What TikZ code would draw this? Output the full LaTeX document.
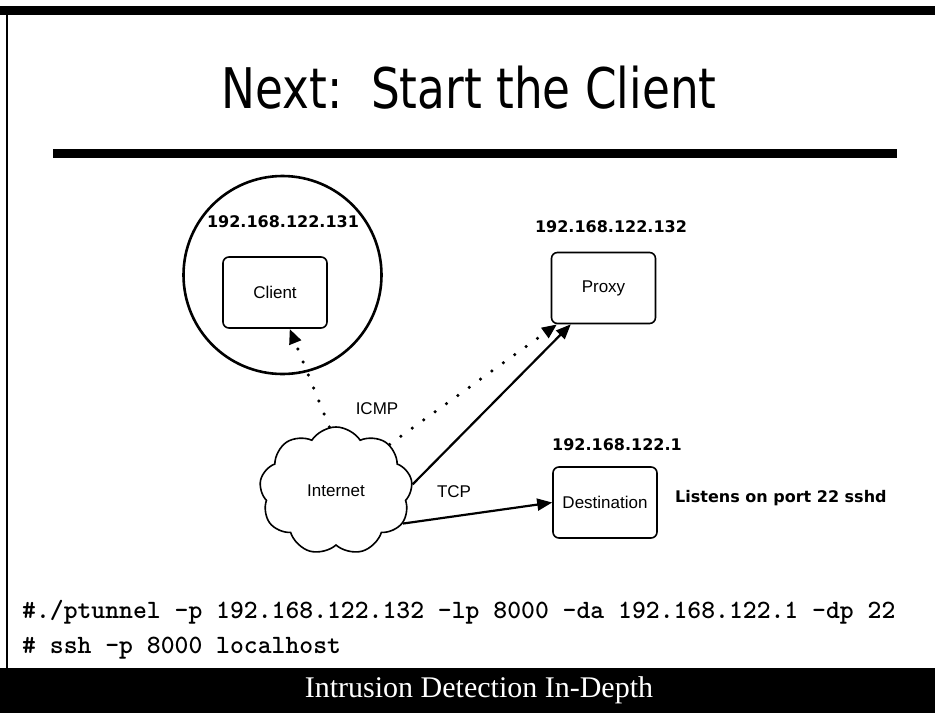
\documentclass[tikz,border=0pt]{standalone}
\usepackage{fontspec}
\usepackage{tikz}
\usetikzlibrary{arrows.meta,shapes.symbols}
\newfontfamily\headfont[FakeStretch=0.81]{DejaVu Sans}
\newfontfamily\ipfont{DejaVu Sans}
\newfontfamily\lblfont{Liberation Sans}
\newfontfamily\footfont{Liberation Serif}

\begin{document}
\begin{tikzpicture}[x=1pt,y=-1pt,
  hostbox/.style={draw,line width=1.6pt,rounded corners=6pt,minimum width=104pt,minimum height=71pt,font=\lblfont\fontsize{17}{20}\selectfont},
  ipaddr/.style={inner sep=0pt,font=\ipfont\bfseries\fontsize{16}{19}\selectfont},
  tag/.style={inner sep=0pt,font=\lblfont\fontsize{17}{20}\selectfont},
  solidlink/.style={line width=2.2pt,-{Triangle[length=15pt,width=12pt]}},
  dotlink/.style={line width=3.5pt,line cap=round,dash pattern=on 0pt off 14pt,-{Triangle[length=15pt,width=12pt]}},
  codeline/.style={anchor=base west,inner sep=0pt,font=\ttfamily\bfseries\fontsize{26.4}{30}\selectfont}]
  \useasboundingbox (0,0) rectangle (935,713);
  \fill[white] (0,0) rectangle (935,713);
  \fill (0,6) rectangle (935,15);
  \draw[line width=1.2pt] (7,10) -- (7,668);
  \fill (53,149) rectangle (897,158);
  \fill (0,668) rectangle (935,713);
  \node[anchor=base,inner sep=0pt,font=\headfont\fontsize{56}{60}\selectfont] (title) at (469,108) {Next:\ \ Start the Client};

  \node[draw,circle,line width=2.6pt,minimum size=198pt,inner sep=0pt] (lan) at (282.5,275) {};
  \node[ipaddr] (clientip) at (283,222) {192.168.122.131};
  \node[hostbox] (client) at (275,292.5) {Client};
  \node[ipaddr] (proxyip) at (611,227) {192.168.122.132};
  \node[hostbox] (proxy) at (603.5,288) {Proxy};
  \node[ipaddr] (destip) at (617,445) {192.168.122.1};
  \node[hostbox] (dest) at (605,502.5) {Destination};
  \node[ipaddr,anchor=west] (listen) at (675,498) {Listens on port 22 sshd};
  \node[draw,cloud,cloud puffs=9,cloud puff arc=115,aspect=1.2,line width=1.6pt,minimum width=153pt,minimum height=128pt,font=\lblfont\fontsize{17}{20}\selectfont] (net) at (336,491) {Internet};

  \draw[dotlink] (net.96) -- (client.-68);
  \draw[dotlink] (net.41) -- (proxy.-142);
  \draw[solidlink] (net.5) -- (proxy.-132);
  \draw[solidlink] (net.-26) -- (dest.west);
  \node[tag] (icmp) at (377,409) {ICMP};
  \node[tag] (tcp) at (454,492) {TCP};

  \node[codeline] (cmd1) at (22,618) {\#./ptunnel -p 192.168.122.132 -lp 8000 -da 192.168.122.1 -dp 22};
  \node[codeline] (cmd2) at (22,653) {\# ssh -p 8000 localhost};
  \node[anchor=base,inner sep=0pt,text=white,font=\footfont\fontsize{30}{34}\selectfont] (footer) at (479,697) {Intrusion Detection In-Depth};
\end{tikzpicture}
\end{document}
